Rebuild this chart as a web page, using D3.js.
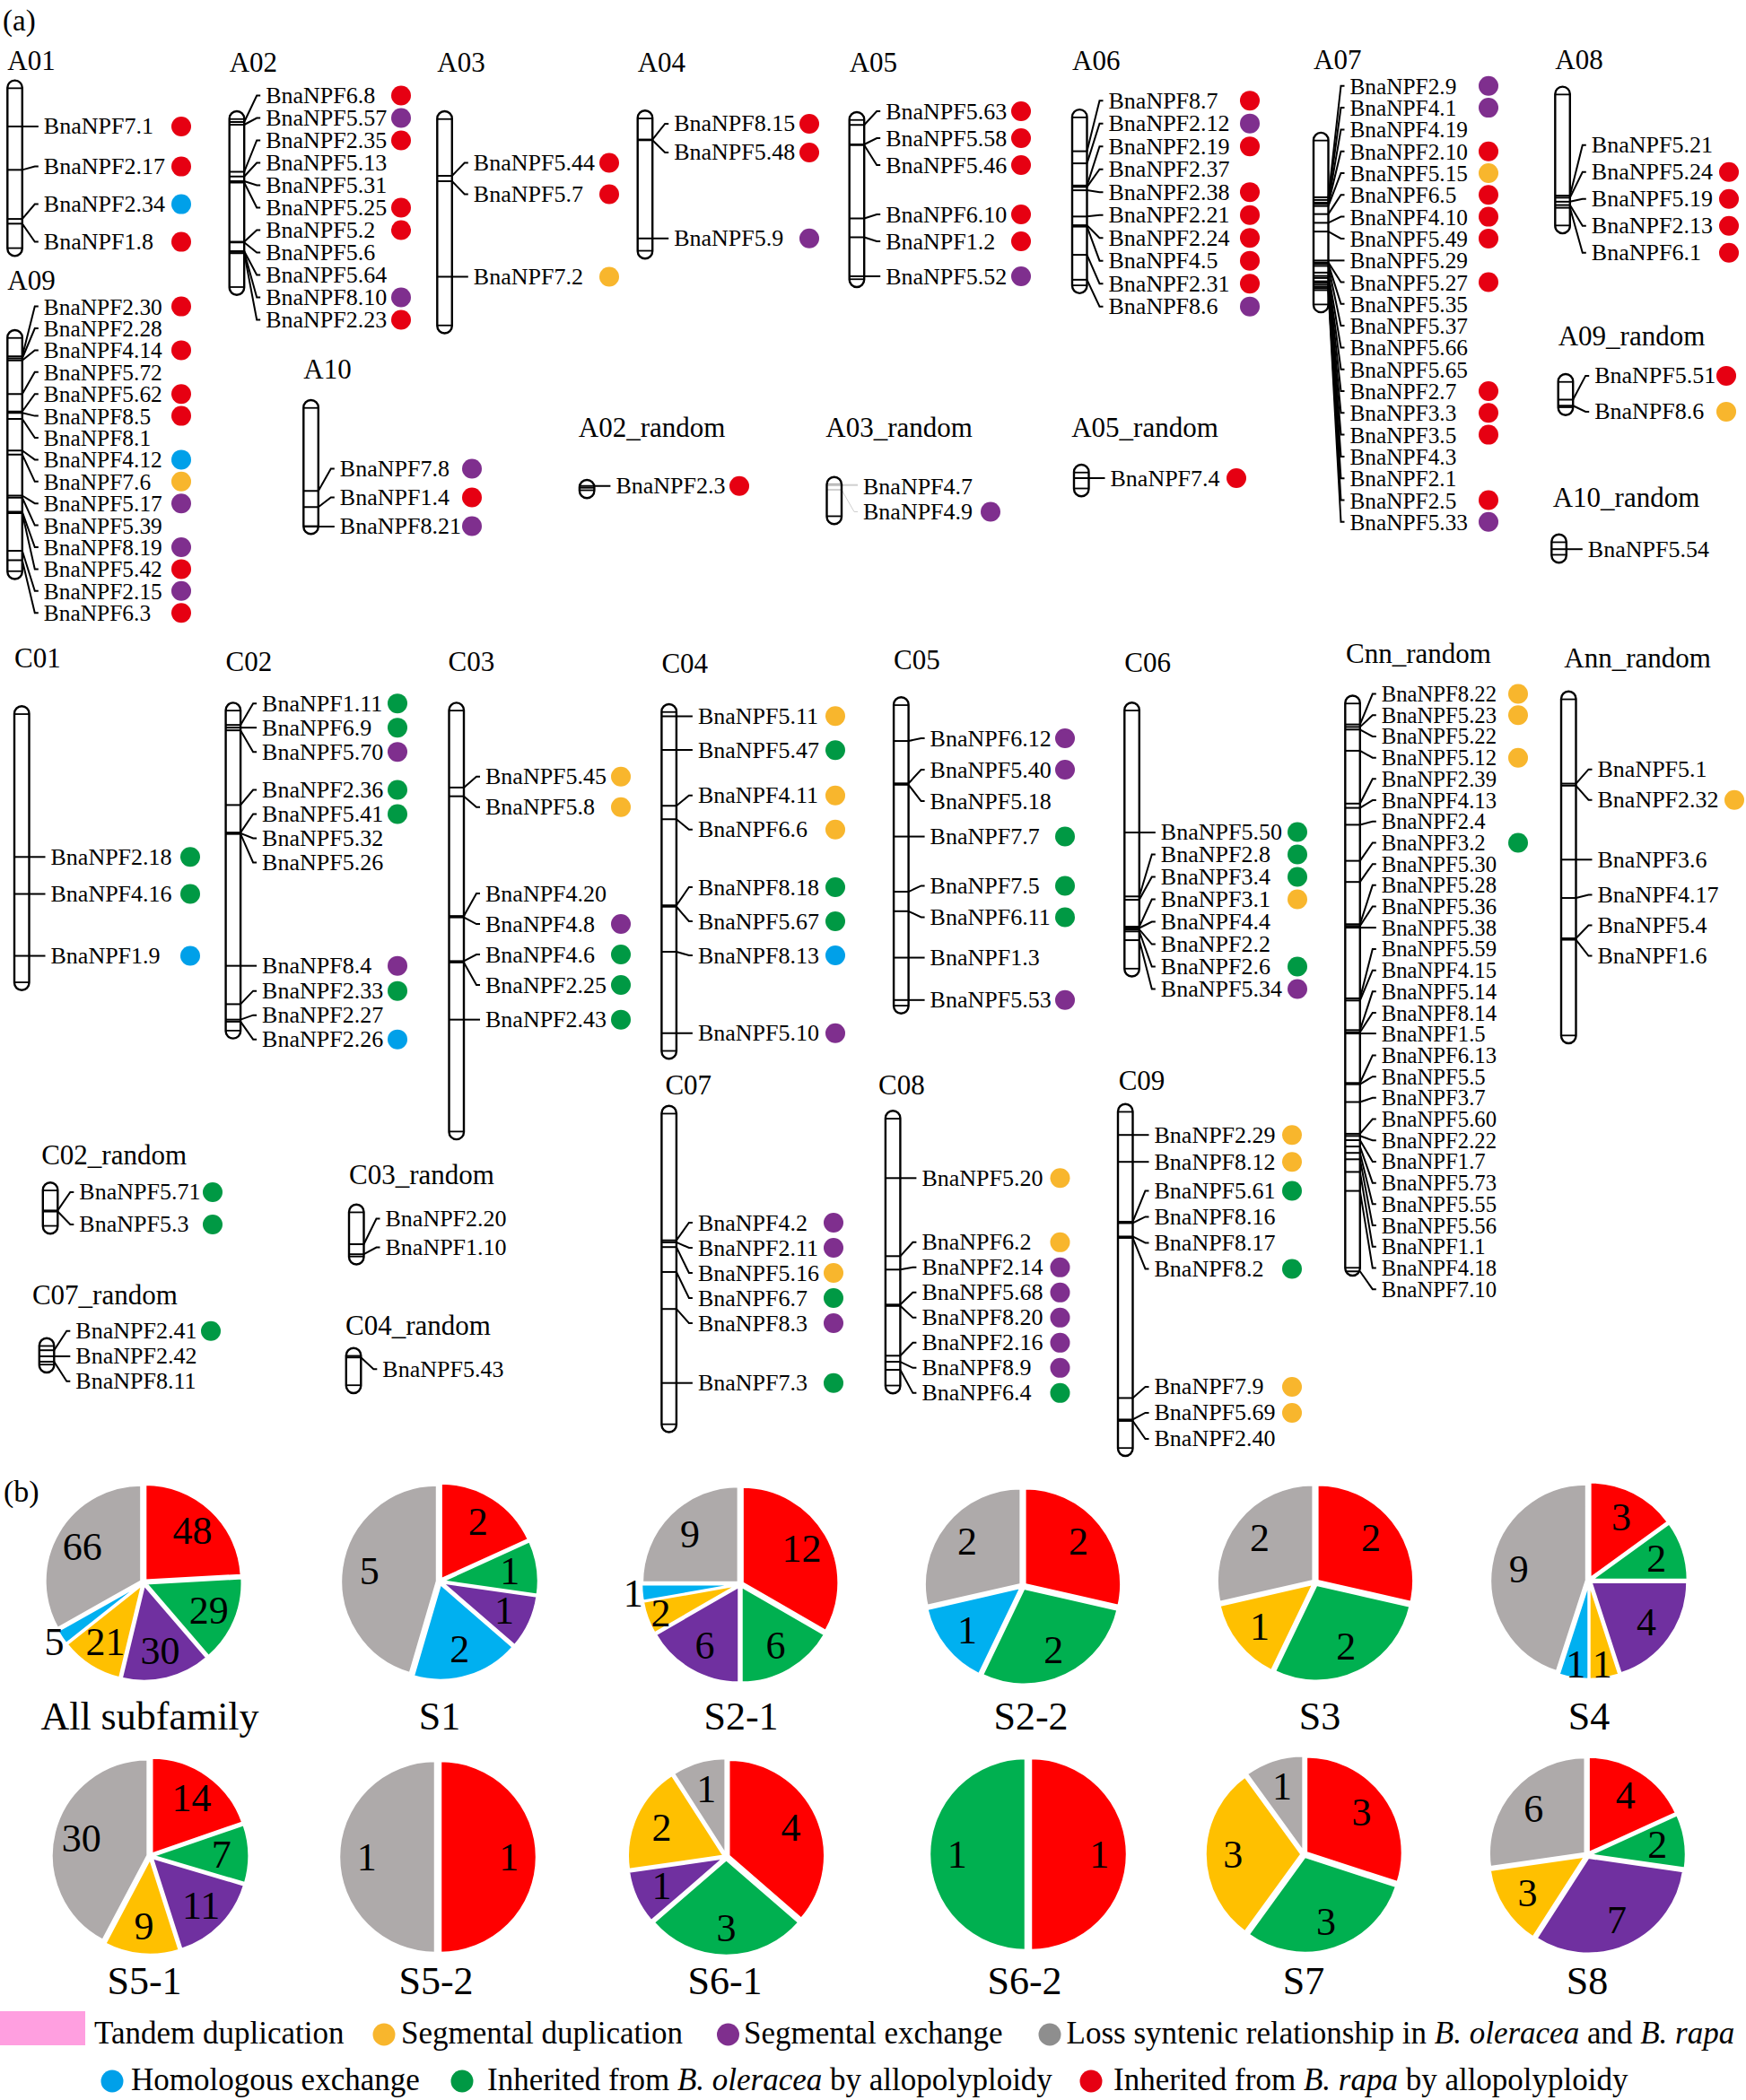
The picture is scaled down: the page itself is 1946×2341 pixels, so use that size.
<!DOCTYPE html>
<html><head><meta charset="utf-8">
<script src="https://d3js.org/d3.v7.min.js"></script>
<style>
html,body{margin:0;padding:0;background:#fff;}
svg{display:block;}
text{font-family:"Liberation Serif","Times New Roman",serif;fill:#000;}
</style></head><body>
<svg id="chart" width="1946" height="2341"></svg>
<script>
// ===================== DATA =====================
// chromosome names and lengths (Mb)
const chromNames = ["A01","A02","A03","A04","A05","A06","A07","A08","A09","A10",
  "A02_random","A03_random","A05_random","A09_random","A10_random",
  "C01","C02","C03","C04","C05","C06","Cnn_random","Ann_random",
  "C02_random","C03_random","C07_random","C04_random","C07","C08","C09"];
const chromLength = [26.1,27.3,33.0,22.0,26.0,27.3,26.7,21.8,37.0,19.9,
  2.7,7.0,4.7,6.1,4.2,
  42.2,49.9,64.9,52.7,47.0,40.7,86.2,52.3,
  7.6,8.9,5.1,6.7,48.5,42.0,52.3];

// genes: [name, position (Mb), origin class]  r=B. rapa, o=B. oleracea, e=segmental exchange, s=segmental duplication, h=homologous exchange
const genesA01 = [["BnaNPF7.1",6.85,"r"],["BnaNPF2.17",13.3,"r"],["BnaNPF2.34",20.6,"h"],["BnaNPF1.8",21.3,"r"]];
const genesA02 = [["BnaNPF6.8",1.6,"r"],["BnaNPF5.57",2.0,"e"],["BnaNPF2.35",9.0,"r"],["BnaNPF5.13",9.7,""],["BnaNPF5.31",10.4,""],["BnaNPF5.25",10.6,"r"],["BnaNPF5.2",19.4,"r"],["BnaNPF5.6",19.5,""],["BnaNPF5.64",20.8,""],["BnaNPF8.10",20.9,"e"],["BnaNPF2.23",21.1,"r"]];
const genesA03 = [["BnaNPF5.44",9.6,"r"],["BnaNPF5.7",10.4,"r"],["BnaNPF7.2",24.6,"s"]];
const genesA04 = [["BnaNPF8.15",4.3,"r"],["BnaNPF5.48",4.4,"r"],["BnaNPF5.9",19.0,"e"]];
const genesA05 = [["BnaNPF5.63",1.9,"r"],["BnaNPF5.58",4.8,"r"],["BnaNPF5.46",4.9,"r"],["BnaNPF6.10",15.8,"r"],["BnaNPF1.2",18.6,"r"],["BnaNPF5.52",24.4,"e"]];
const genesA06 = [["BnaNPF8.7",6.2,"r"],["BnaNPF2.12",8.0,"e"],["BnaNPF2.19",11.3,"r"],["BnaNPF2.37",11.5,""],["BnaNPF2.38",12.0,"r"],["BnaNPF2.21",15.9,"r"],["BnaNPF2.24",17.2,"r"],["BnaNPF4.5",17.4,"r"],["BnaNPF2.31",21.6,"r"],["BnaNPF8.6",25.3,"e"]];
const genesA07 = [["BnaNPF2.9",9.6,"e"],["BnaNPF4.1",10.0,"e"],["BnaNPF4.19",10.4,""],["BnaNPF2.10",10.6,"r"],["BnaNPF5.15",10.9,"s"],["BnaNPF6.5",12.1,"r"],["BnaNPF4.10",13.4,"r"],["BnaNPF5.49",14.7,"r"],["BnaNPF5.29",19.0,""],["BnaNPF5.27",19.3,"r"],["BnaNPF5.35",19.5,""],["BnaNPF5.37",19.8,""],["BnaNPF5.66",20.8,""],["BnaNPF5.65",21.3,""],["BnaNPF2.7",21.6,"r"],["BnaNPF3.3",22.1,"r"],["BnaNPF3.5",22.3,"r"],["BnaNPF4.3",22.6,""],["BnaNPF2.1",22.9,""],["BnaNPF2.5",23.1,"r"],["BnaNPF5.33",23.4,"e"]];
const genesA08 = [["BnaNPF5.21",16.2,""],["BnaNPF5.24",16.5,"r"],["BnaNPF5.19",17.1,"r"],["BnaNPF2.13",17.6,"r"],["BnaNPF6.1",18.0,"r"]];
const genesA09 = [["BnaNPF2.30",3.9,"r"],["BnaNPF2.28",4.2,""],["BnaNPF4.14",4.5,"r"],["BnaNPF5.72",9.5,""],["BnaNPF5.62",12.1,"r"],["BnaNPF8.5",12.3,"r"],["BnaNPF8.1",13.2,""],["BnaNPF4.12",17.9,"h"],["BnaNPF7.6",18.5,"s"],["BnaNPF5.17",24.6,"e"],["BnaNPF5.39",24.9,""],["BnaNPF8.19",27.0,"e"],["BnaNPF5.42",27.2,"r"],["BnaNPF2.15",32.8,"e"],["BnaNPF6.3",34.2,"r"]];
const genesA10 = [["BnaNPF7.8",13.5,"e"],["BnaNPF1.4",15.9,"r"],["BnaNPF8.21",18.8,"e"]];
const genesA02r = [["BnaNPF2.3",0.9,"r"]];
const genesA03r = [["BnaNPF4.7",1.2,""],["BnaNPF4.9",1.9,"e"]];
const genesA05r = [["BnaNPF7.4",2.0,"r"]];
const genesA09r = [["BnaNPF5.51",3.8,"r"],["BnaNPF8.6",4.7,"s"]];
const genesA10r = [["BnaNPF5.54",2.2,""]];
const genesC01 = [["BnaNPF2.18",22.4,"o"],["BnaNPF4.16",27.9,"o"],["BnaNPF1.9",37.1,"h"]];
const genesC02 = [["BnaNPF1.11",3.3,"o"],["BnaNPF6.9",3.7,"o"],["BnaNPF5.70",4.1,"e"],["BnaNPF2.36",15.2,"o"],["BnaNPF5.41",19.3,"o"],["BnaNPF5.32",19.4,""],["BnaNPF5.26",19.5,""],["BnaNPF8.4",39.1,"e"],["BnaNPF2.33",44.8,"o"],["BnaNPF2.27",47.1,""],["BnaNPF2.26",47.4,"h"]];
const genesC03 = [["BnaNPF5.45",12.6,"s"],["BnaNPF5.8",13.9,"s"],["BnaNPF4.20",31.7,""],["BnaNPF4.8",31.9,"e"],["BnaNPF4.6",38.4,"o"],["BnaNPF2.25",38.6,"o"],["BnaNPF2.43",47.1,"o"]];
const genesC04 = [["BnaNPF5.11",1.8,"s"],["BnaNPF5.47",6.8,"o"],["BnaNPF4.11",15.1,"s"],["BnaNPF6.6",17.1,"s"],["BnaNPF8.18",29.9,"o"],["BnaNPF5.67",30.1,"o"],["BnaNPF8.13",36.8,"h"],["BnaNPF5.10",48.9,"e"]];
const genesC05 = [["BnaNPF6.12",6.5,"e"],["BnaNPF5.40",12.8,"e"],["BnaNPF5.18",13.0,""],["BnaNPF7.7",20.7,"o"],["BnaNPF7.5",28.9,"o"],["BnaNPF6.11",31.8,"o"],["BnaNPF1.3",38.7,""],["BnaNPF5.53",45.0,"e"]];
const genesC06 = [["BnaNPF5.50",19.3,"o"],["BnaNPF2.8",28.8,"o"],["BnaNPF3.4",29.3,"o"],["BnaNPF3.1",33.3,"s"],["BnaNPF4.4",33.5,""],["BnaNPF2.2",33.7,""],["BnaNPF2.6",34.0,"o"],["BnaNPF5.34",35.3,"e"]];
const genesCnn = [["BnaNPF8.22",4.28,"s"],["BnaNPF5.23",4.65,"s"],["BnaNPF5.22",5.04,""],["BnaNPF5.12",8.19,"s"],["BnaNPF2.39",16.04,""],["BnaNPF4.13",16.68,""],["BnaNPF2.4",19.19,""],["BnaNPF3.2",24.55,"o"],["BnaNPF5.30",27.69,""],["BnaNPF5.28",33.97,""],["BnaNPF5.36",34.23,""],["BnaNPF5.38",34.48,""],["BnaNPF5.59",44.99,""],["BnaNPF4.15",45.31,""],["BnaNPF5.14",49.71,""],["BnaNPF8.14",50.03,""],["BnaNPF1.5",50.21,""],["BnaNPF6.13",57.57,""],["BnaNPF5.5",57.76,""],["BnaNPF3.7",60.4,""],["BnaNPF5.60",65.12,""],["BnaNPF2.22",65.44,""],["BnaNPF1.7",66.07,""],["BnaNPF5.73",67.01,""],["BnaNPF5.55",67.96,""],["BnaNPF5.56",68.91,""],["BnaNPF1.1",70.79,""],["BnaNPF4.18",73.61,""],["BnaNPF7.10",85.57,""]];
const genesAnn = [["BnaNPF5.1",13.7,""],["BnaNPF2.32",14.0,"s"],["BnaNPF3.6",25.0,""],["BnaNPF4.17",30.7,""],["BnaNPF5.4",36.7,""],["BnaNPF1.6",36.9,""]];
const genesC02r = [["BnaNPF5.71",4.15,"o"],["BnaNPF5.3",4.3,"o"]];
const genesC03r = [["BnaNPF2.20",5.9,""],["BnaNPF1.10",7.4,""]];
const genesC07r = [["BnaNPF2.41",1.8,"o"],["BnaNPF2.42",2.7,""],["BnaNPF8.11",3.5,""]];
const genesC04r = [["BnaNPF5.43",1.4,""]];
const genesC07 = [["BnaNPF4.2",20.0,"e"],["BnaNPF2.11",20.3,"e"],["BnaNPF5.16",21.0,"s"],["BnaNPF6.7",24.7,"o"],["BnaNPF8.3",30.2,"e"],["BnaNPF7.3",41.2,"o"]];
const genesC08 = [["BnaNPF5.20",10.0,"s"],["BnaNPF6.2",21.6,"s"],["BnaNPF2.14",23.6,"e"],["BnaNPF5.68",28.8,"e"],["BnaNPF8.20",29.0,"e"],["BnaNPF2.16",36.4,"e"],["BnaNPF8.9",37.3,"e"],["BnaNPF6.4",38.5,"o"]];
const genesC09 = [["BnaNPF2.29",4.6,"s"],["BnaNPF8.12",8.6,"s"],["BnaNPF5.61",17.5,"o"],["BnaNPF8.16",17.7,""],["BnaNPF8.17",19.7,""],["BnaNPF8.2",19.9,"o"],["BnaNPF7.9",43.7,"s"],["BnaNPF5.69",46.9,"s"],["BnaNPF2.40",47.1,""]];

// pie chart data (b)
const pieNames = ["All subfamily","S1","S2-1","S2-2","S3","S4","S5-1","S5-2","S6-1","S6-2","S7","S8"];
const valRapa       = [48, 2,12,2,2,3,14,1,4,1,3,4];
const valOleracea   = [29, 1, 6,2,2,2, 7,0,3,1,3,2];
const valExchange   = [30, 1, 6,0,0,4,11,0,1,0,0,7];
const valSegdup     = [21, 0, 2,0,1,1, 9,0,2,0,3,3];
const valHomologous = [ 5, 2, 1,1,0,1, 0,0,0,0,0,0];
const valLost       = [66, 5, 9,2,2,9,30,1,1,0,1,6];

// legend entries
const legendRow1 = [
  {mark:"rect", key:"tandem", parts:[["Tandem duplication",0]]},
  {mark:"dot", key:"s", parts:[["Segmental duplication",0]]},
  {mark:"dot", key:"e", parts:[["Segmental exchange",0]]},
  {mark:"dot", key:"lost", parts:[["Loss syntenic relationship in ",0],["B. oleracea",1],[" and ",0],["B. rapa",1]]}
];
const legendRow2 = [
  {mark:"dot", key:"h", parts:[["Homologous exchange",0]]},
  {mark:"dot", key:"o", parts:[["Inherited from ",0],["B. oleracea",1],[" by allopolyploidy",0]]},
  {mark:"dot", key:"r", parts:[["Inherited from ",0],["B. rapa",1],[" by allopolyploidy",0]]}
];

// ===================== LAYOUT / STYLE =====================
const geneTable = {A01:genesA01,A02:genesA02,A03:genesA03,A04:genesA04,A05:genesA05,A06:genesA06,A07:genesA07,A08:genesA08,A09:genesA09,A10:genesA10,
  A02_random:genesA02r,A03_random:genesA03r,A05_random:genesA05r,A09_random:genesA09r,A10_random:genesA10r,
  C01:genesC01,C02:genesC02,C03:genesC03,C04:genesC04,C05:genesC05,C06:genesC06,Cnn_random:genesCnn,Ann_random:genesAnn,
  C02_random:genesC02r,C03_random:genesC03r,C07_random:genesC07r,C04_random:genesC04r,C07:genesC07,C08:genesC08,C09:genesC09};

const chromLayout = {
  A01:{x:8.3,top:89.6,ty:67.4,dotX:202,gap:42},
  A02:{x:255.7,top:124,ty:69.5,dotX:447,gap:25,shift:8},
  A03:{x:487.3,top:124,ty:69.3,dotX:679,gap:35},
  A04:{x:710.7,top:123.3,ty:69.3,dotX:902,gap:32,shift:-2},
  A05:{x:946.7,top:125,ty:69,dotX:1138,gap:30},
  A06:{x:1195,top:122.1,ty:67.7,dotX:1393,gap:25.5,shift:-5},
  A07:{x:1464,top:147.9,ty:66.8,dotX:1659,gap:24.3},
  A08:{x:1733.3,top:96.6,ty:66,dotX:1927,gap:30,shift:-3},
  A09:{x:8.3,top:368,ty:312.6,dotX:202,gap:24.4},
  A10:{x:338.3,top:446,ty:411.5,dotX:526,gap:32,shift:-12},
  A02_random:{x:645.9,top:535,ty:476.7,tx:644.8,dotX:824,gap:28},
  A03_random:{x:921.5,top:531.7,ty:476,tx:920.3,dotX:1104,gap:28.4,shift:13,faint:true},
  A05_random:{x:1197,top:518,ty:476,tx:1194.2,dotX:1378,gap:28},
  A09_random:{x:1736.7,top:417,ty:374.9,dotX:1924,gap:40,shift:-10},
  A10_random:{x:1729.3,top:595.7,ty:554.4,tx:1730.7,dotX:1924,gap:28},
  C01:{x:16,top:787.3,ty:733.9,dotX:212,gap:30},
  C02:{x:251.6,top:783.4,ty:737.7,dotX:443,gap:27},
  C03:{x:500.5,top:783.4,ty:737.7,tx:499.5,dotX:692,gap:34},
  C04:{x:737.4,top:785,ty:739.7,dotX:931,gap:38},
  C05:{x:996.1,top:777.3,ty:735,dotX:1187,gap:35},
  C06:{x:1253.3,top:783.3,ty:738.3,dotX:1446,gap:25},
  Cnn_random:{x:1499.3,top:775.5,ty:728.3,tx:1500,dotX:1692,gap:23.7},
  Ann_random:{x:1740,top:770.8,ty:733,tx:1743.3,dotX:1933,gap:34},
  C02_random:{x:47.8,top:1318.3,ty:1287.5,tx:46.2,dotX:237,gap:36,shift:-3},
  C03_random:{x:389,top:1342.7,ty:1309.7,dotX:0,gap:32,shift:-18},
  C07_random:{x:43.8,top:1491.7,ty:1443,tx:35.9,dotX:235,gap:28},
  C04_random:{x:385.8,top:1502.7,ty:1477.5,tx:385,dotX:0,gap:28,shift:13},
  C07:{x:737.4,top:1232.7,ty:1209.7,tx:741.4,dotX:929,gap:28,shift:12},
  C08:{x:986.9,top:1238.3,ty:1209.7,tx:979,dotX:1181.5,gap:28},
  C09:{x:1246,top:1230.7,ty:1204.2,tx:1246.7,dotX:1440,gap:29}
};

const PX_PER_MB = 7.5, CW = 16.5;
const dotColor = {r:"#e60012", o:"#009944", e:"#7f2f8e", s:"#f8b62d", h:"#00a0e9", lost:"#8e8e8e", tandem:"#ff9fe0"};
const pieCats = ["rapa","oleracea","exchange","segdup","homologous","lost"];
const pieSeries = [valRapa,valOleracea,valExchange,valSegdup,valHomologous,valLost];
const pieColor = ["#ff0000","#00b050","#7030a0","#ffc000","#00b0f0","#aeaaaa"];
const pieCx = [160,490,825,1140,1466,1771, 167.5,488,809.5,1146,1453.5,1769];
const pieCy = [1764,1763,1766,1768,1764,1762, 2069,2070,2070,2067,2067,2068];
const capX  = [167,490,826,1149,1471,1771, 161,486,808,1142,1453,1769];
const capY  = [1913,1913,1913,1913,1913,1913, 2208,2208,2208,2208,2208,2208];

const svg = d3.select("#chart");
svg.append("rect").attr("width",1946).attr("height",2341).attr("fill","#fff");

// label dodging (keeps order, enforces minimum gap, centred on marker positions)
function dodge(targets, gap, minY, shift){
  let clusters = targets.map((t,i)=>({idx:[i], sum:t, n:1}));
  const top = c => Math.max(c.sum/c.n - (c.n-1)*gap/2, minY);
  let merged = true;
  while(merged){
    merged = false;
    for(let i=0;i<clusters.length-1;i++){
      const a=clusters[i], b=clusters[i+1];
      if(top(a)+(a.n-1)*gap+gap > top(b)+1e-6){
        clusters.splice(i,2,{idx:a.idx.concat(b.idx), sum:a.sum+b.sum, n:a.n+b.n});
        merged = true; break;
      }
    }
  }
  const out = new Array(targets.length);
  clusters.forEach(c=>{
    const s = (c.n>1 || clusters.length===1) ? shift : 0;
    const t=top(c)+s; c.idx.forEach((k,j)=>out[k]=t+j*gap);
  });
  return out;
}

// panel labels
svg.append("text").attr("x",3).attr("y",23).attr("dominant-baseline","central").style("font-size","33px").text("(a)");
svg.append("text").attr("x",4).attr("y",1662).attr("dominant-baseline","central").style("font-size","34px").text("(b)");

// ---------- chromosomes ----------
chromNames.forEach((name,ci)=>{
  const L = chromLayout[name], genes = geneTable[name], len = chromLength[ci];
  const y = d3.scaleLinear().domain([0,len]).range([L.top, L.top+len*PX_PER_MB]);
  const g = svg.append("g");
  const x0 = L.x, x1 = L.x+CW, labelX = x1+24;
  const lc = L.faint ? "#cfcfcf" : "#000";
  const fs = Math.min(26, L.gap/0.96);
  g.append("text").attr("x", L.tx!==undefined?L.tx:L.x).attr("y",L.ty)
    .attr("dominant-baseline","central").style("font-size","31px").text(name);
  const h = y(len)-y(0), r = Math.min(CW/2, h/2);
  g.append("rect").attr("x",x0).attr("y",y(0)).attr("width",CW).attr("height",h)
    .attr("rx",r).attr("ry",r).attr("fill","#fff");
  [y(0)+r+0.5, y(len)-r-0.5].forEach(cy=>{
    g.append("line").attr("x1",x0).attr("x2",x1).attr("y1",cy).attr("y2",cy)
      .attr("stroke","#000").attr("stroke-width",1.8);
  });
  const my = genes.map(d=>y(d[1]));
  const ly = dodge(my, L.gap, L.ty+29, L.shift||0);
  genes.forEach((d,i)=>{
    g.append("line").attr("x1",x0).attr("x2",x1).attr("y1",my[i]).attr("y2",my[i])
      .attr("stroke",lc).attr("stroke-width",2);
    if(Math.abs(ly[i]-my[i])<1.5){
      g.append("line").attr("x1",x1).attr("x2",labelX-6).attr("y1",my[i]).attr("y2",my[i])
        .attr("stroke",lc).attr("stroke-width",2);
    } else {
      g.append("path").attr("d",`M${x1},${my[i]}L${labelX-10},${ly[i]}L${labelX-6},${ly[i]}`)
        .attr("fill","none").attr("stroke",lc).attr("stroke-width",L.faint?1:2);
    }
    g.append("text").attr("x",labelX).attr("y",ly[i]).attr("dominant-baseline","central")
      .style("font-size",fs+"px").text(d[0]);
    if(d[2]){
      g.append("circle").attr("cx",L.dotX).attr("cy",ly[i]).attr("r",11).attr("fill",dotColor[d[2]]);
    }
  });
  g.append("rect").attr("x",x0).attr("y",y(0)).attr("width",CW).attr("height",h)
    .attr("rx",r).attr("ry",r).attr("fill","none").attr("stroke","#000").attr("stroke-width",2.4);
});

// ---------- pies ----------
const R = 107, EXPL = 3;
const pieGen = d3.pie().sort(null).value(d=>d.v);
const arcGen = d3.arc().innerRadius(0).outerRadius(R);
pieNames.forEach((pn,pi)=>{
  const vals = pieCats.map((c,k)=>({k, v:pieSeries[k][pi]})).filter(d=>d.v>0);
  const total = d3.sum(vals,d=>d.v);
  const arcs = pieGen(vals);
  const g = svg.append("g").attr("transform",`translate(${pieCx[pi]},${pieCy[pi]})`);
  arcs.forEach(a=>{
    const mid = (a.startAngle+a.endAngle)/2;
    const dx = Math.sin(mid)*EXPL, dy = -Math.cos(mid)*EXPL;
    g.append("path").attr("d",arcGen(a)).attr("transform",`translate(${dx},${dy})`)
      .attr("fill",pieColor[a.data.k]).attr("stroke","#fff").attr("stroke-width",2.5);
  });
  arcs.forEach(a=>{
    const mid = (a.startAngle+a.endAngle)/2;
    const frac = a.data.v/total;
    const rr = frac<0.04 ? R*1.12 : (frac<0.07 ? R*0.88 : R*0.74);
    g.append("text").attr("x",Math.sin(mid)*rr).attr("y",-Math.cos(mid)*rr)
      .attr("text-anchor","middle").attr("dominant-baseline","central")
      .style("font-size","44px").text(a.data.v);
  });
  svg.append("text").attr("x",capX[pi]).attr("y",capY[pi]).attr("text-anchor","middle")
    .attr("dominant-baseline","central").style("font-size","44px").text(pn);
});

// ---------- legend ----------
const legRowY = [2266, 2318];
const legMarkX = [[0,428,811.5,1170],[125,515,1216]];
const legTextX = [[105,447,829,1188.6],[146,543,1241]];
[legendRow1, legendRow2].forEach((row,ri)=>{
  row.forEach((it,ii)=>{
    const cy = legRowY[ri];
    if(it.mark==="rect"){
      svg.append("rect").attr("x",legMarkX[ri][ii]).attr("y",2242).attr("width",95).attr("height",38)
        .attr("fill",dotColor[it.key]);
    } else {
      svg.append("circle").attr("cx",legMarkX[ri][ii]).attr("cy",cy+2).attr("r",12.5).attr("fill",dotColor[it.key]);
    }
    const t = svg.append("text").attr("x",legTextX[ri][ii]).attr("y",cy)
      .attr("dominant-baseline","central").style("font-size","35px");
    it.parts.forEach(p=>{
      t.append("tspan").style("font-style",p[1]?"italic":"normal").text(p[0]);
    });
  });
});
</script>
</body></html>
